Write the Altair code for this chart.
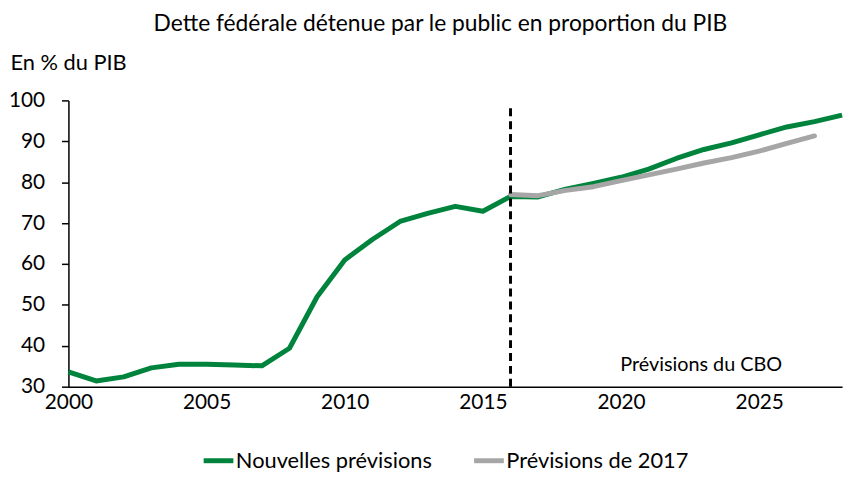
import altair as alt
import pandas as pd

# ---- data ----
years_new = list(range(2000, 2029))
values_new = [33.6, 31.4, 32.4, 34.6, 35.5, 35.5, 35.3, 35.1, 39.4, 52.0,
              61.0, 66.0, 70.4, 72.4, 74.1, 72.9, 76.5, 76.4, 78.3, 79.7,
              81.2, 83.2, 85.8, 88.0, 89.6, 91.6, 93.5, 94.8, 96.4]
years_old = list(range(2016, 2028))
values_old = [77.0, 76.7, 78.0, 78.9, 80.4, 81.8, 83.2, 84.7, 86.0, 87.6, 89.5, 91.3]
series_names = ["Nouvelles prévisions", "Prévisions de 2017"]
series_colors = ["#00843D", "#A6A6A6"]
forecast_year = [2016]
forecast_top = [98.5]
annotation = ["Prévisions du CBO"]
annotation_x = [2022.9]
annotation_y = [35.3]

FONT = "Lato"

df_new = pd.DataFrame({"year": years_new, "value": values_new, "series": series_names[0]})
df_old = pd.DataFrame({"year": years_old, "value": values_old, "series": series_names[1]})
df_rule = pd.DataFrame({"year": forecast_year, "y1": [30], "y2": forecast_top})
df_text = pd.DataFrame({"year": annotation_x, "value": annotation_y, "label": annotation})

xscale = alt.Scale(domain=[2000, 2028], nice=False, zero=False)
yscale = alt.Scale(domain=[30, 100], nice=False, zero=False)
color = alt.Color("series:N",
                  scale=alt.Scale(domain=series_names, range=series_colors),
                  legend=alt.Legend(title=None, orient="none", direction="horizontal",
                                    legendX=134, legendY=346,
                                    symbolType="stroke", symbolStrokeWidth=5,
                                    symbolSize=900, labelFont=FONT, labelFontSize=22,
                                    labelColor="#000", labelOffset=0, columnPadding=32,
                                    labelLimit=400, symbolOpacity=1))

xaxis = alt.X("year:Q", scale=xscale,
              axis=alt.Axis(title=None, values=[2000, 2005, 2010, 2015, 2020, 2025],
                            format="d", ticks=False, labelFont=FONT, labelFontSize=21,
                            labelColor="#000", labelPadding=5, labelFlush=False,
                            domainColor="#000", domainWidth=1.5, grid=False))
yaxis = alt.Y("value:Q", scale=yscale,
              axis=alt.Axis(title="En % du PIB", titleAngle=0, titleAlign="left",
                            titleBaseline="middle", titleX=-59, titleY=-38,
                            titleFont=FONT, titleFontSize=22, titleFontWeight="normal",
                            titleColor="#000",
                            values=list(range(30, 101, 10)), tickSize=7,
                            tickColor="#000", tickWidth=1.5, labelFont=FONT,
                            labelFontSize=21, labelColor="#000", labelPadding=17,
                            domainColor="#000", domainWidth=1.5, grid=False))

green = alt.Chart(df_new).mark_line(strokeWidth=5, strokeJoin="round").encode(
    x=xaxis, y=yaxis, color=color)
gray = alt.Chart(df_old).mark_line(strokeWidth=5, strokeCap="round", strokeJoin="round").encode(
    x="year:Q", y="value:Q", color=color)
rule = alt.Chart(df_rule).mark_rule(color="#000", strokeWidth=3, strokeDash=[8, 5]).encode(
    x="year:Q", y="y1:Q", y2="y2:Q")
text = alt.Chart(df_text).mark_text(font=FONT, fontSize=20, color="#000").encode(
    x="year:Q", y="value:Q", text="label:N")

chart = alt.layer(green, gray, rule, text).properties(
    width=781, height=289,
    title=alt.TitleParams("Dette fédérale détenue par le public en proportion du PIB",
                          font=FONT, fontSize=23, fontWeight="normal", color="#000",
                          anchor="middle", dx=-15, offset=16),
    autosize=alt.AutoSizeParams(type="none"),
    padding={"left": 61, "top": 91, "right": 10, "bottom": 100},
).configure_view(stroke=None)

chart.save("out.html", embed_options={"renderer": "svg", "actions": False})
